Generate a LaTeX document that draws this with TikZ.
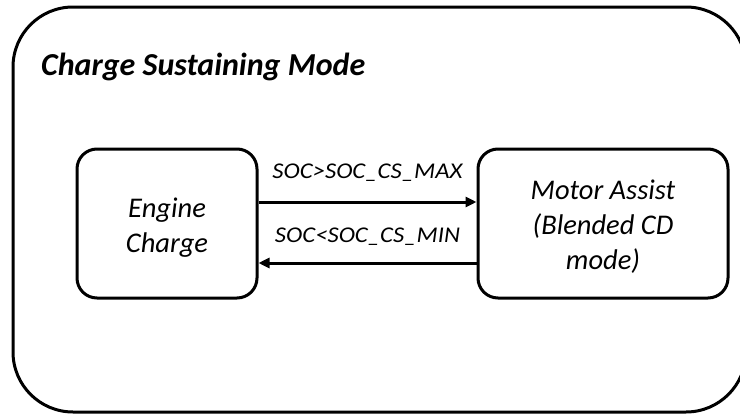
\documentclass[tikz,border=0pt]{standalone}
\usepackage{fontspec}
\setmainfont{Carlito}
\newfontfamily\lblfont{Carlito}[FakeStretch=1.1]
\usetikzlibrary{arrows.meta}
\tikzset{
  outerbox/.style={draw, line width=3pt, rounded corners=60pt},
  statebox/.style={draw, line width=3pt, rounded corners=20pt, minimum height=149pt, inner sep=0pt},
  boxtext/.style={align=center, inner sep=0pt, font=\itshape\fontsize{28.5}{35}\selectfont},
  arr/.style={line width=3pt, -{Triangle[length=11pt,width=10pt]}},
  lbl/.style={font=\lblfont\itshape\fontsize{22.5}{27}\selectfont, inner sep=0pt, anchor=base},
  titletext/.style={font=\bfseries\itshape\fontsize{32}{38}\selectfont, inner sep=0pt, anchor=base west}
}
\begin{document}
\begin{tikzpicture}[x=1pt,y=-1pt]
\useasboundingbox (0,0) rectangle (740,415);
\clip (0,0) rectangle (740,415);
\draw[outerbox] (13,7) rectangle (746,412);
\node[titletext] (title) at (41,75) {Charge Sustaining Mode};
\node[statebox, minimum width=180pt] (L) at (167,223.5) {};
\node[statebox, minimum width=250pt] (R) at (603,223.5) {};
\node[boxtext] (Lt) at ([yshift=-4.5pt]L.center) {Engine\\Charge};
\node[boxtext] (Rt) at ([yshift=-3.5pt]R.center) {Motor Assist\\(Blended CD\\mode)};
\draw[arr] ([yshift=21.5pt]L.east) -- node[lbl, yshift=24pt] (t1) {SOC>SOC\_CS\_MAX} ([yshift=21.5pt]R.west);
\draw[arr] ([yshift=-39.5pt]R.west) -- node[lbl, yshift=21pt] (t2) {SOC<SOC\_CS\_MIN} ([yshift=-39.5pt]L.east);
\end{tikzpicture}
\end{document}
